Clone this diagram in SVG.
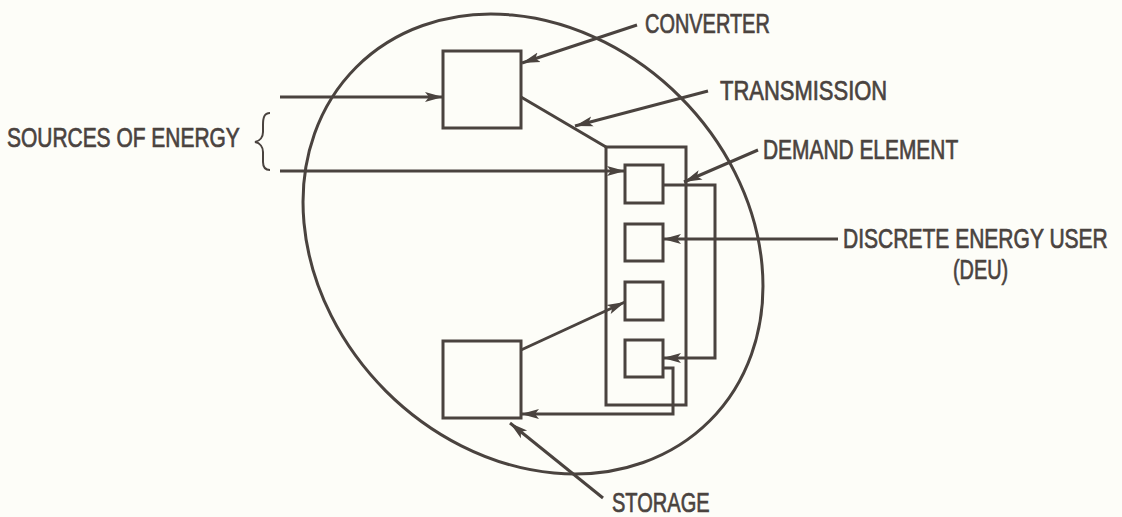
<svg xmlns="http://www.w3.org/2000/svg" width="1122" height="517" viewBox="0 0 1122 517">
<style>
.s{fill:none;stroke:#4a433f;stroke-width:3;stroke-linejoin:miter}
.b{fill:#fdfdf8;stroke:#4a433f;stroke-width:3}
.t{font-family:"Liberation Sans Narrow","Liberation Sans",Arial,sans-serif;font-size:27px;fill:#4a433f;stroke:#4a433f;stroke-width:0.7}
</style>
<defs>
<marker id="ah" markerUnits="userSpaceOnUse" markerWidth="20" markerHeight="12" refX="18" refY="6" orient="auto">
<path d="M0,1 L18,6 L0,11 L4,6 Z" fill="#4a433f"/>
</marker>
</defs>
<rect width="1122" height="517" fill="#fdfdf8"/>
<g id="boundary">
<ellipse cx="533" cy="244" rx="250" ry="208" transform="rotate(45 533 244)" class="s"/>
</g>
<g id="converter"><rect x="443" y="51" width="78" height="77" class="b"/></g>
<g id="storage"><rect x="443" y="341" width="78" height="77" class="b"/></g>
<g id="demand-element"><rect x="606" y="147" width="80" height="258" class="s"/></g>
<g id="deu1"><rect x="625" y="165" width="38" height="38" class="b"/></g>
<g id="deu2"><rect x="625" y="224" width="38" height="37" class="b"/></g>
<g id="deu3"><rect x="625" y="282" width="38" height="38" class="b"/></g>
<g id="deu4"><rect x="625" y="340" width="38" height="37" class="b"/></g>
<g id="connectors">
<path class="s" d="M280,97 L443,97" marker-end="url(#ah)"/>
<path class="s" d="M280,171 L625,171" marker-end="url(#ah)"/>
<path class="s" d="M521,97 L606,147"/>
<path class="s" d="M521,350 L625,302" marker-end="url(#ah)"/>
<path class="s" d="M663,185 L715,185 L715,358 L663,358" marker-end="url(#ah)"/>
<path class="s" d="M663,368 L673,368 L673,414 L521,414" marker-end="url(#ah)"/>
<path class="s" d="M838,239 L663,239" marker-end="url(#ah)"/>
<path class="s" d="M637,25 L522,63" marker-end="url(#ah)"/>
<path class="s" d="M708,91 L575,126" marker-end="url(#ah)"/>
<path class="s" d="M758,150 L684,182" marker-end="url(#ah)"/>
<path class="s" d="M603,498 L510,423" marker-end="url(#ah)"/>
<path d="M270,113 C264,113 263,118 263,125 L263,132 C263,137 260,141 255,142 C260,143 263,147 263,152 L263,162 C263,167 265,170 270,170" fill="none" stroke="#4a433f" stroke-width="2"/>
</g>
<g id="labels">
<text class="t" transform="translate(645,33) scale(0.8,1)" textLength="156" lengthAdjust="spacingAndGlyphs">CONVERTER</text>
<text class="t" transform="translate(720,100) scale(0.8,1)" textLength="209" lengthAdjust="spacingAndGlyphs">TRANSMISSION</text>
<text class="t" transform="translate(763,159) scale(0.8,1)" textLength="244" lengthAdjust="spacingAndGlyphs">DEMAND ELEMENT</text>
<text class="t" transform="translate(843,248) scale(0.8,1)" textLength="331" lengthAdjust="spacingAndGlyphs">DISCRETE ENERGY USER</text>
<text class="t" transform="translate(953,279) scale(0.8,1)" textLength="69" lengthAdjust="spacingAndGlyphs">(DEU)</text>
<text class="t" transform="translate(7,147) scale(0.8,1)" textLength="291" lengthAdjust="spacingAndGlyphs">SOURCES OF ENERGY</text>
<text class="t" transform="translate(612,512) scale(0.8,1)" textLength="122" lengthAdjust="spacingAndGlyphs">STORAGE</text>
</g>
</svg>
